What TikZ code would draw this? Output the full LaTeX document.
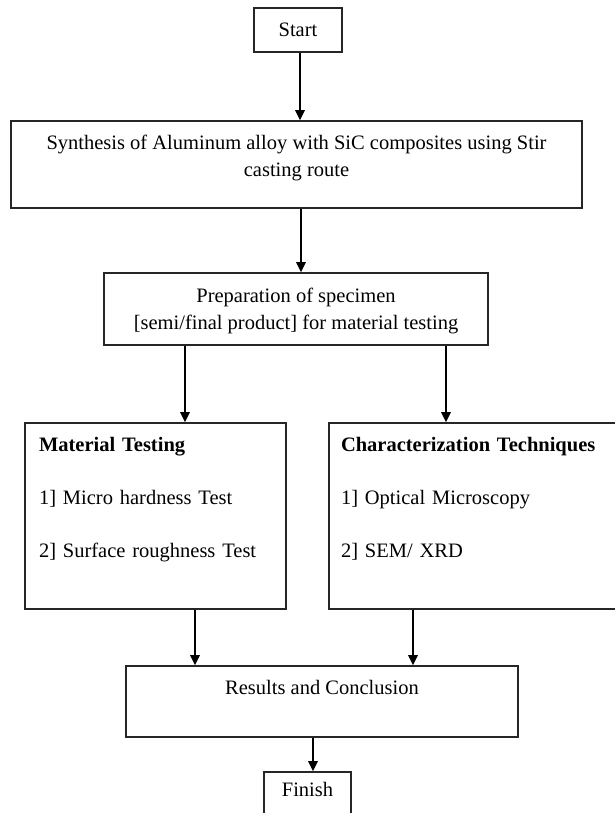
\documentclass[tikz,border=0pt]{standalone}
\usepackage{fontspec}
\setmainfont{Liberation Serif}
\usetikzlibrary{arrows.meta,positioning}
\newcommand{\lowdepth}[1]{\rule[-#1]{0pt}{#1}}
\tikzset{%
  font=\fontsize{20.5}{27}\selectfont,
  block/.style  = {rectangle, draw=black!85, line width=1.6pt, align=center, inner sep=0pt},
  blockl/.style = {block, align=left},
  line/.style   = {draw, line width=1.3pt, -{Triangle[length=10pt,width=9.5pt]}}
}

\begin{document}
\begin{tikzpicture}[x=1pt,y=-1pt]
	\clip (0,0) rectangle (615,813);
	\node[block, minimum width=88pt, minimum height=44pt] (start) at (298,30) {Start};
	\node[block, minimum width=571pt, minimum height=87pt] (synth) at (296.5,164.5) {%
		Synthesis of Aluminum alloy with SiC composites using Stir\\
		casting route\lowdepth{17.5pt}
	};
	\node[block, minimum width=384pt, minimum height=72pt] (prep) at (296,309) {%
		\rule{0pt}{19pt}Preparation of specimen\\
		{[semi/final product]} for material testing
	};
	\node[blockl, text width=233pt, inner xsep=14pt, minimum height=186pt] (mt) at (155.5,516) {%
		\textbf{Material Testing}\\[26pt]
		1] Micro hardness Test\\[26pt]
		2] Surface roughness Test\lowdepth{36.5pt}
	};
	\node[blockl, text width=268pt, inner xsep=12pt, minimum height=186pt] (ct) at (475,516) {%
		\textbf{Characterization Techniques}\\[26pt]
		1] Optical Microscopy\\[26pt]
		2] SEM/ XRD\lowdepth{36.5pt}
	};
	\node[block, minimum width=392pt, minimum height=71pt] (res) at (322,701.5) {Results and Conclusion\lowdepth{27.5pt}};
	\node[block, minimum width=87pt, minimum height=44pt] (finish) at (307.5,794) {Finish\lowdepth{8.5pt}};
	
	\foreach \from/\dx/\to in {start/2/synth, synth/4.5/prep, prep/-111/mt, prep/150/ct,
		mt/39.5/res, ct/-62/res, res/-9/finish}
		\draw[line] ([xshift=\dx pt]\from.south) coordinate (tail) -- (tail |- \to.north);
\end{tikzpicture}
\end{document}
